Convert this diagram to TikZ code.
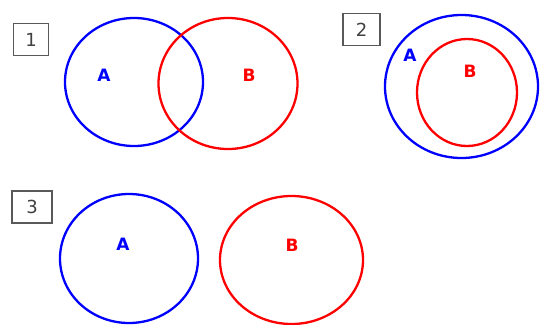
\documentclass[tikz,border=0pt]{standalone}
\usepackage{fontspec}
\setmainfont{DejaVu Sans}
\usepackage{xcolor}
\usetikzlibrary{positioning}

\tikzset{
  numbox/.style={draw=black!65, line width=1.5pt, minimum width=35pt, minimum height=32pt,
    inner sep=0pt, text=black!75, font=\fontsize{18}{18}\selectfont},
  setlbl/.style={font=\fontsize{17}{17}\selectfont\bfseries, inner sep=0pt},
  setA/.style={draw=blue, line width=2.3pt},
  setB/.style={draw=red, line width=2.3pt}
}

\begin{document}
\begin{tikzpicture}[x=1pt, y=-1pt]
  \useasboundingbox (0,0) rectangle (540,324);
  % case 1: overlapping sets
  \node[numbox] (n1) at (31, 39.5) {1};
  \draw[setA] (134, 82) ellipse [x radius=69, y radius=64];
  \draw[setB] (228, 83.5) ellipse [x radius=69.5, y radius=65.5];
  \node[setlbl, text=blue] (a1) at (104, 75) {A};
  \node[setlbl, text=red] (b1) at (249, 75) {B};
  % case 2: B inside A
  \node[numbox, minimum width=37pt] (n2) at (361.5, 29.5) {2};
  \draw[setA] (461.5, 86.5) ellipse [x radius=76.5, y radius=71.5];
  \draw[setB] (467, 92.5) ellipse [x radius=50, y radius=53.5];
  \node[setlbl, text=blue] (a2) at (410, 55) {A};
  \node[setlbl, text=red] (b2) at (470, 71) {B};
  % case 3: disjoint sets
  \node[numbox, minimum width=40pt] (n3) at (32, 207) {3};
  \draw[setA] (129, 258.5) ellipse [x radius=69, y radius=64.5];
  \draw[setB] (291.5, 260) ellipse [x radius=71.5, y radius=64];
  \node[setlbl, text=blue] (a3) at (123, 244) {A};
  \node[setlbl, text=red] (b3) at (292, 245) {B};
\end{tikzpicture}
\end{document}
